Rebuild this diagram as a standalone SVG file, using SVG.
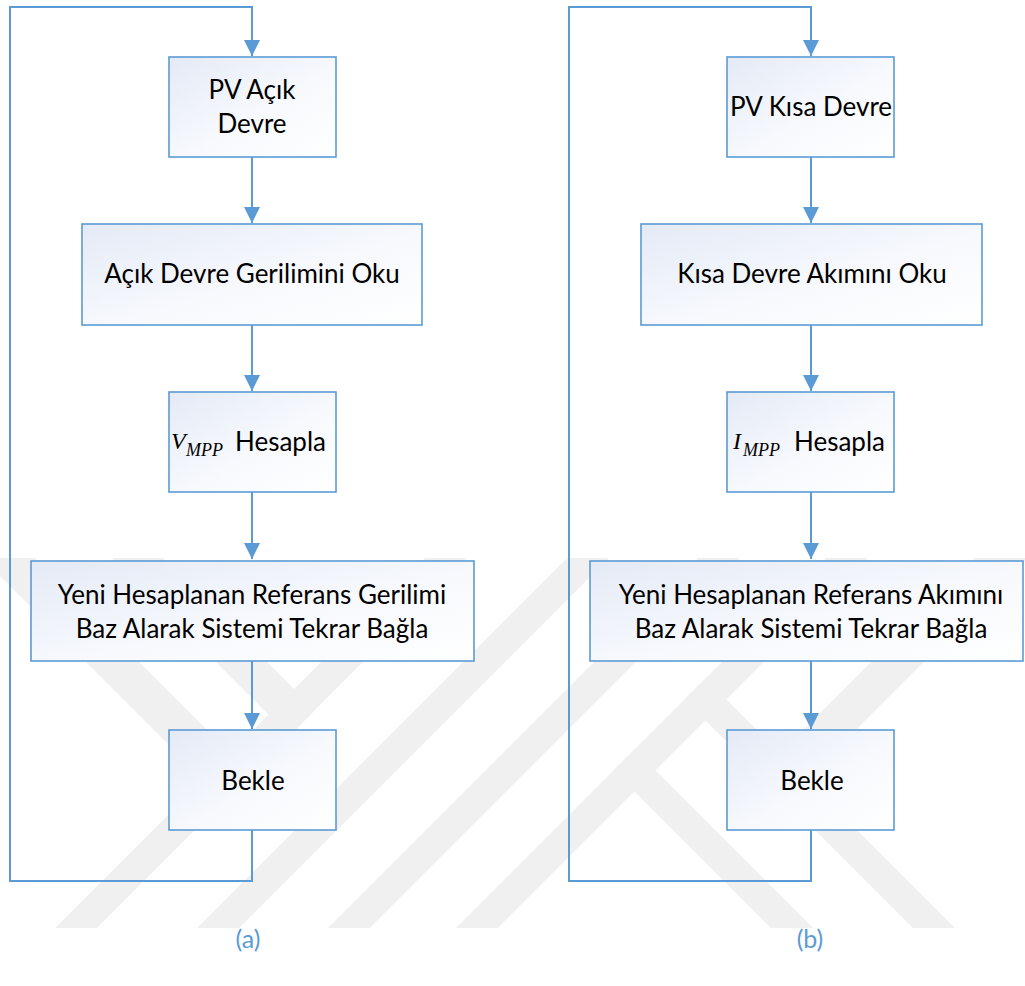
<svg xmlns="http://www.w3.org/2000/svg" width="1025" height="986" viewBox="0 0 1025 986">
  <defs>
    <linearGradient id="boxfill" x1="0" y1="0" x2="1" y2="1">
      <stop offset="0" stop-color="#e4eaf6"/>
      <stop offset="0.55" stop-color="#f7f9fd"/>
      <stop offset="1" stop-color="#ffffff"/>
    </linearGradient>
    <marker id="arrow" markerUnits="userSpaceOnUse" markerWidth="16" markerHeight="16" viewBox="0 0 16 16" refX="16" refY="8" orient="auto">
      <path d="M0,0 L16,8 L0,16 Z" fill="#5b9bd5"/>
    </marker>
  </defs>
  <style>
    .box { fill: url(#boxfill); stroke: #5b9bd5; stroke-width: 1.6; }
    .lbl { font-family: Lato, "Open Sans", "Liberation Sans", sans-serif; font-size: 26px; fill: #000000; text-anchor: middle; }
    .lbl-start { font-family: Lato, "Open Sans", "Liberation Sans", sans-serif; font-size: 26px; fill: #000000; }
    .math { font-family: "Liberation Serif", "Times New Roman", serif; font-style: italic; fill: #000000; }
    .conn { fill: none; stroke: #5b9bd5; stroke-width: 2; }
    .cap { font-family: Lato, "Open Sans", "Liberation Sans", sans-serif; font-size: 25px; fill: #5b9bd5; text-anchor: middle; }
    .wm { fill: #f0f0f0; }
  </style>
  <rect x="0" y="0" width="1025" height="986" fill="#ffffff"/>

  <g id="watermark">
    <polygon class="wm" points="55,928 97,928 467,558 425,558"/>
    <polygon class="wm" points="197,928 239,928 609,558 567,558"/>
    <polygon class="wm" points="328,928 370,928 740,558 698,558"/>
    <polygon class="wm" points="456,928 498,928 868,558 826,558"/>
    <polygon class="wm" points="-18,558 35,558 251,774 224.5,800.5"/>
    <polygon class="wm" points="112,558 163,558 315,710 289.5,735.5"/>
    <polygon class="wm" points="771,928 813,928 634.5,749.5 613.5,770.5"/>
    <polygon class="wm" points="913,928 955,928 705.5,678.5 684.5,699.5"/>
    <polygon class="wm" points="975,558 1028,558 785.5,800.5 759,774"/>
  </g>

  <g id="connectors">
    <path class="conn" d="M252,830 V881 H10 V7 H252 V56" marker-end="url(#arrow)"/>
    <path class="conn" d="M252,157 V223" marker-end="url(#arrow)"/>
    <path class="conn" d="M252,325 V391" marker-end="url(#arrow)"/>
    <path class="conn" d="M252,492 V559" marker-end="url(#arrow)"/>
    <path class="conn" d="M252,661 V729" marker-end="url(#arrow)"/>
    <path class="conn" d="M811,830 V881 H569 V7 H811 V56" marker-end="url(#arrow)"/>
    <path class="conn" d="M811,157 V223" marker-end="url(#arrow)"/>
    <path class="conn" d="M811,325 V391" marker-end="url(#arrow)"/>
    <path class="conn" d="M811,492 V559" marker-end="url(#arrow)"/>
    <path class="conn" d="M811,661 V729" marker-end="url(#arrow)"/>
  </g>

  <g id="a-pv-acik">
    <rect class="box" x="169" y="57" width="167" height="100"/>
    <text class="lbl" x="252" y="99">PV Açık</text>
    <text class="lbl" x="252" y="133">Devre</text>
  </g>
  <g id="a-gerilim-oku">
    <rect class="box" x="82" y="224" width="340" height="101"/>
    <text class="lbl" x="252" y="283">Açık Devre Gerilimini Oku</text>
  </g>
  <g id="a-vmpp">
    <rect class="box" x="169" y="392" width="167" height="100"/>
    <text class="math" x="171" y="449" font-size="24">V</text>
    <text class="math" x="186" y="456" font-size="18">MPP</text>
    <text class="lbl-start" x="235" y="451">Hesapla</text>
  </g>
  <g id="a-baglan">
    <rect class="box" x="31" y="561" width="443" height="100"/>
    <text class="lbl" x="252" y="604">Yeni Hesaplanan Referans Gerilimi</text>
    <text class="lbl" x="252" y="638">Baz Alarak Sistemi Tekrar Bağla</text>
  </g>
  <g id="a-bekle">
    <rect class="box" x="169" y="730" width="167" height="100"/>
    <text class="lbl" x="253" y="790">Bekle</text>
  </g>

  <g id="b-pv-kisa">
    <rect class="box" x="727" y="57" width="167" height="100"/>
    <text class="lbl" x="811" y="116">PV Kısa Devre</text>
  </g>
  <g id="b-akim-oku">
    <rect class="box" x="641" y="224" width="341" height="101"/>
    <text class="lbl" x="812" y="283">Kısa Devre Akımını Oku</text>
  </g>
  <g id="b-impp">
    <rect class="box" x="727" y="392" width="167" height="100"/>
    <text class="math" x="733" y="449" font-size="24">I</text>
    <text class="math" x="743" y="456" font-size="18">MPP</text>
    <text class="lbl-start" x="794" y="451">Hesapla</text>
  </g>
  <g id="b-baglan">
    <rect class="box" x="590" y="561" width="433" height="100"/>
    <text class="lbl" x="811" y="604">Yeni Hesaplanan Referans Akımını</text>
    <text class="lbl" x="811" y="638">Baz Alarak Sistemi Tekrar Bağla</text>
  </g>
  <g id="b-bekle">
    <rect class="box" x="727" y="730" width="167" height="100"/>
    <text class="lbl" x="812" y="790">Bekle</text>
  </g>

  <g id="captions">
    <text class="cap" x="248" y="948">(a)</text>
    <text class="cap" x="810" y="948">(b)</text>
  </g>
</svg>
